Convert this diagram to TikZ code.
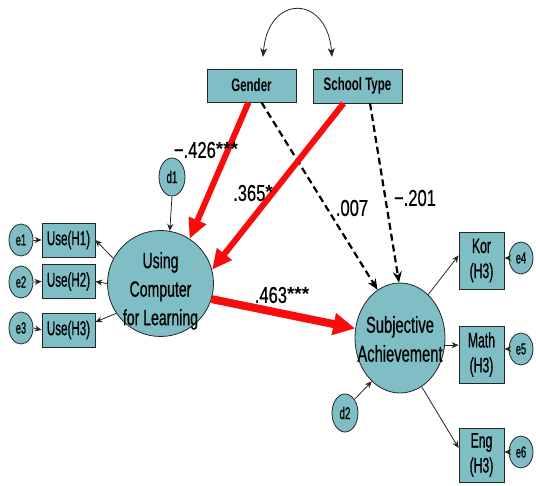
\documentclass[tikz,border=0pt]{standalone}
\usepackage{fontspec}
\setmainfont{Liberation Sans}
\newfontfamily\nf[FakeStretch=0.58,FakeBold=0.6]{Liberation Sans}
\newfontfamily\cf[FakeStretch=0.64,FakeBold=0.6]{Liberation Sans}
\newfontfamily\hf[FakeStretch=0.64]{Liberation Sans}
\newfontfamily\lf[FakeStretch=0.72,FakeBold=0.5]{Liberation Sans}
\newfontfamily\af{Liberation Sans}
\usetikzlibrary{arrows.meta,shapes.geometric,calc}
\definecolor{tealfill}{RGB}{126,190,196}
\definecolor{redc}{RGB}{250,12,12}
\begin{document}
\begin{tikzpicture}[x=1pt,y=-1pt,
  shapebase/.style={draw=black!85,fill=tealfill,line width=0.8pt,inner sep=0pt,align=center},
  box/.style={shapebase,rectangle,font={\nf\fontsize{20}{24}\selectfont}},
  hbox/.style={shapebase,rectangle,font={\hf\bfseries\fontsize{18}{20}\selectfont}},
  circ/.style={shapebase,circle},
  ell/.style={shapebase,ellipse},
  bigtext/.style={inner sep=0pt,align=center,font={\cf\fontsize{22}{28.5}\selectfont}},
  err/.style={shapebase,ellipse,minimum width=24pt,minimum height=32pt,font={\nf\fontsize{16}{18}\selectfont}},
  dist/.style={shapebase,ellipse,minimum width=26pt,minimum height=38pt,font={\nf\fontsize{17}{18}\selectfont}},
  lbl/.style={font={\lf\fontsize{23}{26}\selectfont},inner sep=0pt},
  thinarr/.style={draw=black!85,line width=0.8pt,-{Stealth[length=7pt,width=6pt]}},
  redarr/.style={draw=redc,line width=6pt,-{Triangle[length=20pt,width=18pt]}},
  bigredarr/.style={draw=redc,line width=8pt,-{Triangle[length=22pt,width=21pt]}},
  dasharr/.style={draw=black,line width=2.2pt,dash pattern=on 7pt off 4pt,-{Stealth[length=11pt,width=9pt]}}
]
\useasboundingbox (0,0) rectangle (536,486);
\fill[white] (0,0) rectangle (536,486);
\newcommand\stars[1]{{\af\bfseries\fontsize{19}{20}\selectfont\raisebox{2pt}{#1}}}

% exogenous boxes
\node[hbox,minimum width=89pt,minimum height=33pt] (G) at (251.5,85.5) {Gender};
\node[hbox,minimum width=89pt,minimum height=34pt] (S) at (357.5,86) {School Type};

% latent variables
\node[circ,minimum size=106pt] (U) at (160.5,283.5) {};
\node[bigtext] (Ut) at (160.5,291) {Using\\Computer\\for Learning};
\node[ell,minimum width=90pt,minimum height=110pt] (A) at (400,338) {};
\node[bigtext,font={\cf\fontsize{23}{29}\selectfont}] (At) at (400,339) {Subjective\\Achievement};

% indicators
\node[box,minimum width=53pt,minimum height=34pt] (U1) at (68.5,240) {Use(H1)};
\node[box,minimum width=53pt,minimum height=34pt] (U2) at (68.5,281.5) {Use(H2)};
\node[box,minimum width=53pt,minimum height=34pt] (U3) at (68.5,330) {Use(H3)};
\node[box,minimum width=45pt,minimum height=57pt,font={\nf\fontsize{21}{25}\selectfont}] (K) at (481.5,260.5) {Kor\\(H3)};
\node[box,minimum width=45pt,minimum height=57pt,font={\nf\fontsize{21}{25}\selectfont}] (M) at (481.5,354.5) {Math\\(H3)};
\node[box,minimum width=45pt,minimum height=54pt,font={\nf\fontsize{21}{25}\selectfont}] (E) at (481.5,455) {Eng\\(H3)};

% errors
\node[err] (e1) at (21,240) {e1};
\node[err] (e2) at (21,282) {e2};
\node[err] (e3) at (21,328) {e3};
\node[err] (e4) at (521,258) {e4};
\node[err] (e5) at (521,349) {e5};
\node[err] (e6) at (521,452) {e6};
\node[dist] (d1) at (172,177) {d1};
\node[dist] (d2) at (345,413) {d2};

% covariance arc
\coordinate (g1) at (263,57);
\coordinate (s1) at (332,57);
\draw[draw=black!85,line width=0.8pt,{Stealth[length=9pt,width=7pt]}-{Stealth[length=9pt,width=7pt]}]
  (g1) .. controls (268,-6) and (327,-6) .. (s1);

% structural paths
\draw[dasharr] ($(G.south)+(10,0)$) -- (A.115);
\draw[dasharr] ($(S.south)+(12.5,0)$) -- (A.91);
\draw[redarr] ($(G.south)+(-3,0)$) -- (U.57);
\draw[redarr] ($(S.south)+(-14,0)$) -- (U.15);
\draw[bigredarr] (U.-17) -- (A.168);

% disturbances
\draw[thinarr] (d1.south) -- (U.80);
\draw[thinarr] (d2.55) -- (A.237);

% measurement paths
\draw[thinarr] (U.152) -- (U1.east);
\draw[thinarr] (U.180) -- (U2.east);
\draw[thinarr] (U.214) -- ($(U3.east)+(0,-8)$);
\draw[thinarr] (e1.east) -- (U1.west);
\draw[thinarr] (e2.east) -- (U2.west);
\draw[thinarr] (e3.east) -- (U3.west);
\draw[thinarr] (A.57) -- ($(K.west)+(0,-5)$);
\draw[thinarr] (A.-9) -- (A.-9 -| M.west);
\draw[thinarr] (A.-66) -- ($(E.west)+(0,-7)$);
\draw[thinarr] (e4.west) -- (e4.west -| K.east);
\draw[thinarr] (e5.west) -- (e5.west -| M.east);
\draw[thinarr] (e6.west) -- (e6.west -| E.east);

% coefficients
\node[lbl] (l1) at (206,150) {−.426\stars{***}};
\node[lbl] (l2) at (253,193) {.365\stars{*}};
\node[lbl] (l3) at (352,208) {.007};
\node[lbl] (l4) at (415,198) {−.201};
\node[lbl] (l5) at (282,295) {.463\stars{***}};
\end{tikzpicture}
\end{document}
